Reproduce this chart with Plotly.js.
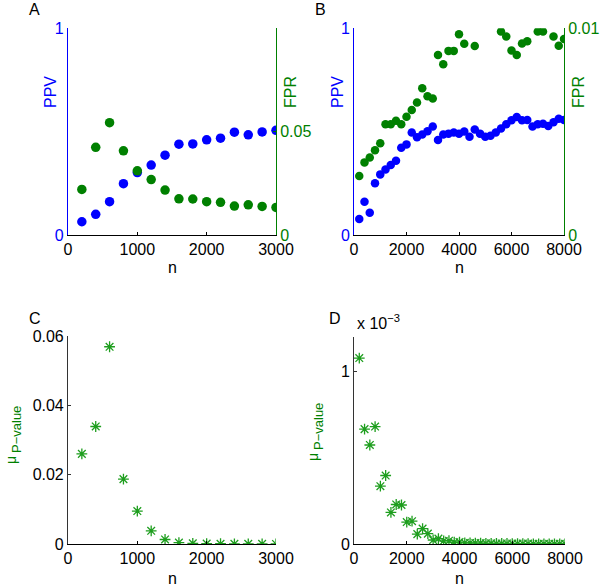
<!DOCTYPE html>
<html>
<head>
<meta charset="utf-8">
<script src="https://cdn.plot.ly/plotly-3.0.1.min.js"></script>
<style>html,body{margin:0;padding:0;background:#fff;}#chart{width:600px;height:586px;}</style>
</head>
<body>
<div id="chart"></div>
<script>
// ---- Panel A data ----
const nA = [200,400,600,800,1000,1200,1400,1600,1800,2000,2200,2400,2600,2800,3000];
const ppvA = [0.064,0.10,0.161,0.248,0.302,0.338,0.386,0.439,0.44,0.46,0.468,0.497,0.484,0.498,0.506];
const fprA = [0.022,0.0424,0.0543,0.0407,0.031,0.0268,0.0217,0.0175,0.0174,0.0161,0.0158,0.014,0.0146,0.0138,0.0133];

// ---- Panel B data ----
const nB = [200,400,600,800,1000,1200,1400,1600,1800,2000,2200,2400,2600,2800,3000,3200,3400,3600,3800,4000,
            4200,4400,4600,4800,5000,5200,5400,5600,5800,6000,6200,6400,6600,6800,7000,7200,7400,7600,7800,8000];
const ppvB = [0.077,0.161,0.108,0.25,0.293,0.317,0.338,0.359,0.422,0.438,0.496,0.472,0.486,0.502,0.525,0.459,0.486,0.49,0.496,0.49,
              0.50,0.475,0.51,0.49,0.475,0.48,0.495,0.515,0.535,0.555,0.57,0.555,0.556,0.525,0.535,0.538,0.527,0.545,0.562,0.556];
// null = point above the axis limit (not shown in the original)
const fprB = [0.00285,0.00351,0.00375,0.0041,0.00444,0.00535,0.00535,0.00552,0.00535,0.00572,0.00604,0.00641,0.00709,0.00671,0.0066,0.0087,0.00825,0.0089,0.0089,0.0097,
              0.00924,null,0.00914,null,null,null,null,0.00984,0.0096,0.00892,0.0087,0.00926,0.00937,null,0.00984,0.00984,null,0.0096,0.00915,0.00947];

// ---- Panel C data ----
const nC = [200,400,600,800,1000,1200,1400,1600,1800,2000,2200,2400,2600,2800,3000];
const muC = [0.026,0.0339,0.0569,0.0187,0.0095,0.0038,0.0013,0.0004,0.0002,0.0001,0.00006,0.00004,0.00003,0.00002,0.00001];

// ---- Panel D data ----
const nD = nB;
const muD = [1.078e-3,0.666e-3,0.574e-3,0.681e-3,0.335e-3,0.397e-3,0.183e-3,0.229e-3,0.226e-3,0.127e-3,0.132e-3,0.057e-3,0.089e-3,0.060e-3,0.023e-3,0.031e-3,0.0175e-3,0.019e-3,0.010e-3,0.011e-3,
             0.007e-3,0.006e-3,0.005e-3,0.005e-3,0.004e-3,0.004e-3,0.003e-3,0.003e-3,0.003e-3,0.002e-3,0.002e-3,0.002e-3,0.002e-3,0.001e-3,0.001e-3,0.001e-3,0.001e-3,0.001e-3,0.001e-3,0.001e-3];

const xTicksA = [0,1000,2000,3000];
const xTicksB = [0,2000,4000,6000,8000];
const panelLetters = ['A','B','C','D'];

const BLUE = '#0000ff', GREEN = '#008000', AST = '#1e9e1e';
const FONT = 'Liberation Sans, Arial, Helvetica, sans-serif';
const FS = 16;

const astMarker = {symbol:'asterisk-open', size:9, color:AST, line:{color:AST, width:1.3}};
const traces = [
  {x:nA, y:ppvA, xaxis:'x', yaxis:'y', mode:'markers', marker:{color:BLUE, size:9.5}},
  {x:nA, y:fprA, xaxis:'x', yaxis:'y2', mode:'markers', marker:{color:GREEN, size:9.5}},
  {x:nB, y:ppvB, xaxis:'x2', yaxis:'y3', mode:'markers', marker:{color:BLUE, size:8.5}},
  {x:nB, y:fprB, xaxis:'x2', yaxis:'y4', mode:'markers', marker:{color:GREEN, size:8.5}},
  {x:nC, y:muC, xaxis:'x3', yaxis:'y5', mode:'markers', marker:astMarker},
  {x:nD, y:muD, xaxis:'x4', yaxis:'y6', mode:'markers', marker:astMarker}
];

function xax(domain, anchor, range, ticks) {
  return {domain, anchor, range, tickvals:ticks, ticktext:ticks.map(String), showgrid:false, zeroline:false,
    showline:true, linecolor:'#000', linewidth:1, ticks:'inside', ticklen:3, tickcolor:'#000',
    tickfont:{family:FONT, size:FS, color:'#000'}};
}
function yax(domain, anchor, range, tickvals, ticktext, color, side, overlaying) {
  const tc = color === '#333' ? '#000' : color;
  const a = {domain, anchor, range, tickvals, ticktext, showgrid:false, zeroline:false,
    showline:true, linecolor:color, linewidth:1, ticks:'inside', ticklen:3, tickcolor:color,
    tickfont:{family:FONT, size:FS, color:tc}};
  if (side) a.side = side;
  if (overlaying) { a.overlaying = overlaying; delete a.domain; }
  return a;
}

function ann(text, px, py, opts) {
  return Object.assign({text, x:px/600, y:1-py/586, xref:'paper', yref:'paper', xanchor:'center', yanchor:'middle',
    showarrow:false, font:{family:FONT, size:FS, color:'#000'}}, opts || {});
}
const rot = (color, size) => ({textangle:-90, font:{family:FONT, size:size||FS, color}});

const layout = {
  width:600, height:586, margin:{l:0,r:0,t:0,b:0}, showlegend:false,
  paper_bgcolor:'#fff', plot_bgcolor:'#fff', font:{family:FONT},
  xaxis: xax([0.1133,0.46],'y',[0,3000],xTicksA),
  yaxis: yax([0.599,0.952],'x',[0,1],[0,1],['0','1'],BLUE),
  yaxis2: yax(null,'x',[0,0.1],[0,0.05],['0','0.05'],GREEN,'right','y'),
  xaxis2: xax([0.59,0.94],'y3',[0,8000],xTicksB),
  yaxis3: yax([0.599,0.952],'x2',[0,1],[0,1],['0','1'],BLUE),
  yaxis4: yax(null,'x2',[0,0.01],[0,0.01],['0','0.01'],GREEN,'right','y3'),
  xaxis3: xax([0.1133,0.46],'y5',[0,3000],xTicksA),
  yaxis5: yax([0.0717,0.4266],'x3',[0,0.06],[0,0.02,0.04,0.06],['0','0.02','0.04','0.06'],'#333'),
  xaxis4: xax([0.59,0.9417],'y6',[0,8000],xTicksB),
  yaxis6: yax([0.0717,0.4249],'x4',[0,1.2e-3],[0,1e-3],['0','1'],'#333'),
  annotations: [
    ann(panelLetters[0], 27, 9, {xanchor:'left'}),
    ann(panelLetters[1], 313, 9, {xanchor:'left'}),
    ann(panelLetters[2], 27, 318, {xanchor:'left'}),
    ann(panelLetters[3], 327, 318, {xanchor:'left'}),
    ann('x 10<sup>−3</sup>', 355, 322, {xanchor:'left'}),
    ann('n', 172, 268), ann('n', 459, 268), ann('n', 172, 578), ann('n', 459, 578),
    ann('PPV', 50, 92, rot(BLUE)), ann('FPR', 290, 92, rot(GREEN)),
    ann('PPV', 337, 92, rot(BLUE)), ann('FPR', 578, 92, rot(GREEN)),
    ann('μ', 11, 460, rot(GREEN, 14)), ann('P−value', 16, 430, rot(GREEN, 13)),
    ann('μ', 313, 457, rot(GREEN, 14)), ann('P−value', 318, 427, rot(GREEN, 13))
  ]
};

Plotly.newPlot('chart', traces, layout, {staticPlot:true, displayModeBar:false});
</script>
</body>
</html>
